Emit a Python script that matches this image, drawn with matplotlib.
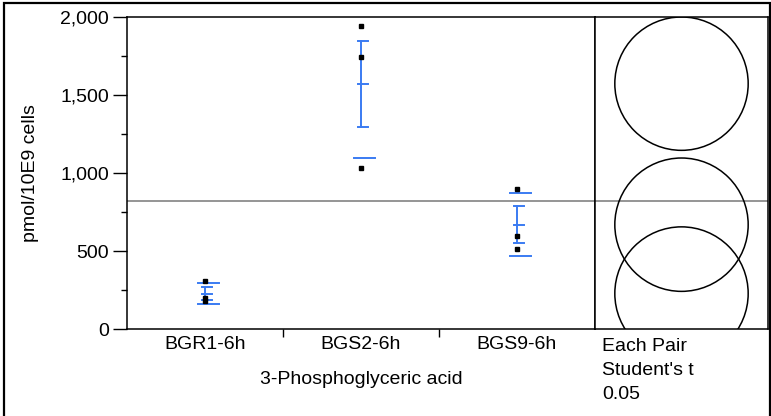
import numpy as np
import matplotlib.pyplot as plt
from matplotlib.patches import Circle, Rectangle
from matplotlib.ticker import MultipleLocator, FuncFormatter

plt.rcParams['font.family'] = ['Liberation Sans', 'DejaVu Sans']

# Data (pmol/10E9 cells)
groups = ["BGR1-6h", "BGS2-6h", "BGS9-6h"]
bgr1 = [306, 198, 178]
bgs2 = [1942, 1744, 1032]
bgs9 = [897, 596, 513]
values = [bgr1, bgs2, bgs9]
t_crit = 2.447  # Student's t, alpha 0.05, df 6

means = np.array([np.mean(v) for v in values])
sds = np.array([np.std(v, ddof=1) for v in values])
ns = np.array([len(v) for v in values])
ses = sds / np.sqrt(ns)
grand_mean = np.mean(np.concatenate(values))
pooled_sd = np.sqrt(np.sum((ns - 1) * sds**2) / np.sum(ns - 1))
radius = t_crit * pooled_sd / np.sqrt(ns[0])

blue = '#3a7bf2'
gray = '#8c8c8c'

W, H = 771, 416
fig = plt.figure(figsize=(W / 100, H / 100), dpi=100)

# outer frame
fig.patches.append(Rectangle((4 / W, -0.02), 765.5 / W, 1.02 - 3 / H,
                             transform=fig.transFigure, fill=False,
                             lw=1.6, ec='black'))

ax = fig.add_axes([127 / W, (H - 329) / H, 468 / W, 312 / H])
ax2 = fig.add_axes([595 / W, (H - 329) / H, 173 / W, 312 / H])

x = np.arange(len(groups))
for i, v in enumerate(values):
    ax.plot([i] * len(v), v, 's', color='black', ms=2.6, zorder=4)
    m, se, sd = means[i], ses[i], sds[i]
    ax.plot([i, i], [m - se, m + se], color=blue, lw=1.4)
    for yv in (m - se, m, m + se):
        ax.plot([i - 0.022, i + 0.042], [yv, yv], color=blue, lw=1.4)
    for yv in (m - sd, m + sd):
        ax.plot([i - 0.045, i + 0.087], [yv, yv], color=blue, lw=1.4)

ax.axhline(grand_mean, color=gray, lw=1.3, zorder=1)
ax.set_xlim(-0.5, 2.5)
ax.set_ylim(0, 2000)
ax.set_xticks(x)
ax.set_xticklabels(groups, fontsize=14)
ax.tick_params(axis='x', length=0, pad=5)
ax.set_xticks([0.5, 1.5], minor=True)
ax.tick_params(axis='x', which='minor', length=6, width=1, direction='out')
ax.yaxis.set_major_locator(MultipleLocator(500))
ax.yaxis.set_minor_locator(MultipleLocator(250))
ax.yaxis.set_major_formatter(FuncFormatter(lambda v, p: f"{v:,.0f}"))
ax.tick_params(axis='y', which='major', length=10, width=1, labelsize=14, pad=3)
ax.tick_params(axis='y', which='minor', length=4, width=1)
for s in ax.spines.values():
    s.set_linewidth(1.1)
ax.set_ylabel("pmol/10E9 cells", fontsize=14, labelpad=15)
fig.text(361 / W, 1 - 380 / H, "3-Phosphoglyceric acid", fontsize=14,
         ha='center', va='center')

# comparison circles panel
ax2.set_ylim(0, 2000)
half = 1000 * (173 / 312)
ax2.set_xlim(-half, half)
for m in means:
    ax2.add_patch(Circle((0, m), radius, fill=False, ec='black', lw=1.1))
ax2.axhline(grand_mean, color=gray, lw=1.3, zorder=0)
ax2.set_xticks([])
ax2.set_yticks([])
for s in ax2.spines.values():
    s.set_linewidth(1.1)
fig.text(602 / W, 1 - 338 / H, "Each Pair\nStudent's t\n0.05", fontsize=14,
         ha='left', va='top', linespacing=1.55)

fig.savefig("out.png", dpi=100)
